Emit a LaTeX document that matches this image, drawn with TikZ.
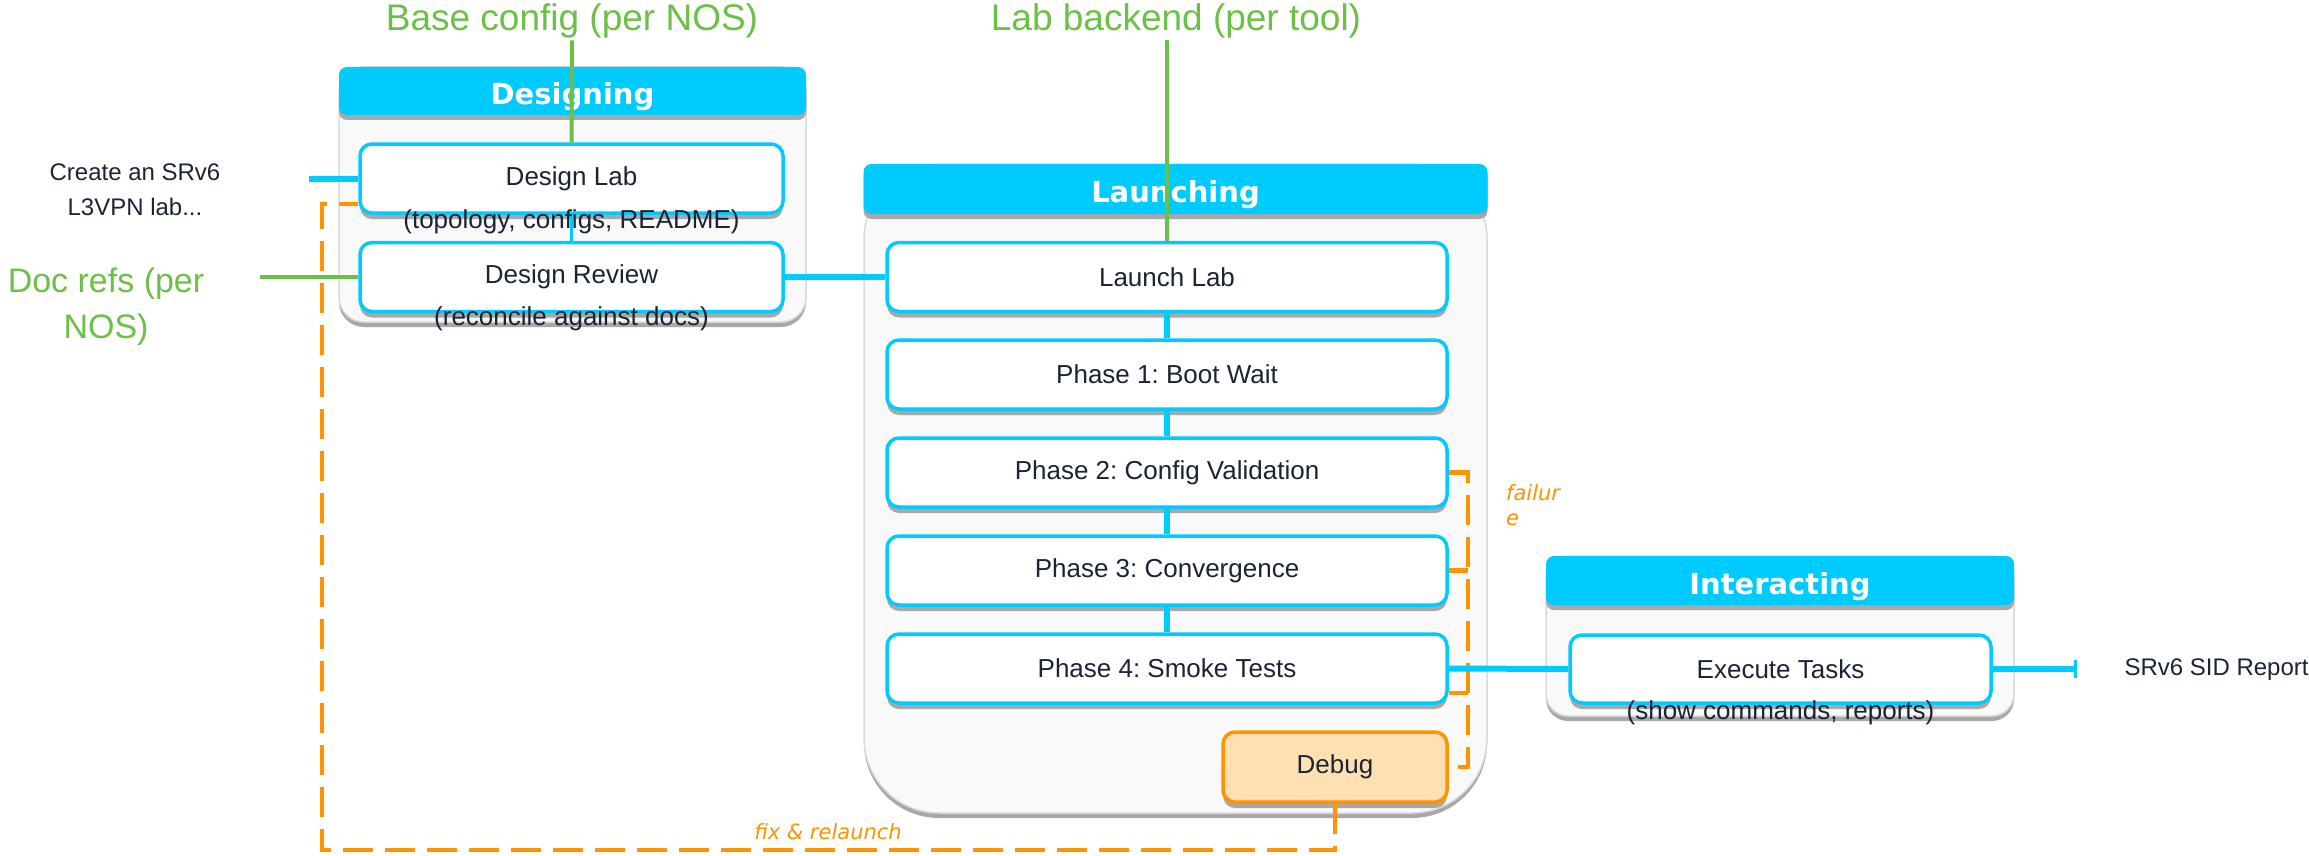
\documentclass[tikz,border=0pt]{standalone}
\usepackage{fontspec}
\setmainfont{Liberation Sans}
\newfontfamily\headfont{DejaVu Sans}
\usepackage{tikz}
\usetikzlibrary{arrows.meta,shadows}
\frenchspacing

\definecolor{phaseblue}{HTML}{00CBFF}
\definecolor{ink}{HTML}{1B2434}
\definecolor{refgreen}{HTML}{6CBF47}
\definecolor{failorange}{HTML}{FF9300}
\definecolor{debugfill}{HTML}{FFE0B3}
\definecolor{panelfill}{HTML}{F9F9F9}
\definecolor{panelline}{HTML}{DADADA}
\definecolor{shadegrey}{HTML}{A8A8A8}

\tikzset{
  greyshade/.style={drop shadow={shadow xshift=0pt, shadow yshift=-#1, fill=shadegrey, opacity=1}},
  panel/.style={fill=panelfill, draw=panelline, line width=1.5pt, greyshade=5pt},
  header/.style={fill=phaseblue, rounded corners=8pt, inner sep=0pt, text=white,
    text height=27pt, text depth=0pt,
    font=\headfont\bfseries\fontsize{29}{34}\selectfont, greyshade=5pt},
  task/.style={draw=phaseblue, fill=white, line width=3.5pt, rounded corners=12pt,
    inner sep=0pt, minimum height=69pt, text=ink, font=\fontsize{26}{31}\selectfont, greyshade=6pt},
  debugbox/.style={task, draw=failorange, fill=debugfill},
  sub/.style={text=ink, font=\fontsize{26}{31}\selectfont, inner sep=0pt},
  plain/.style={text=ink, font=\fontsize{24}{35}\selectfont, align=center},
  reflabel/.style={text=refgreen, font=\fontsize{37}{47}\selectfont, align=center, inner sep=2pt},
  note/.style={text=failorange, font=\headfont\itshape\fontsize{21}{25}\selectfont, inner sep=0pt},
  flow/.style={draw=phaseblue, line width=6pt},
  feed/.style={draw=refgreen, line width=4pt},
  fail/.style={draw=failorange, line width=4.5pt, dash pattern=on 30pt off 12pt},
}

\begin{document}
\begin{tikzpicture}[x=1pt,y=-1pt]
  \useasboundingbox (0,0) rectangle (2309,856);

  % containers
  \path[panel, rounded corners=25pt] (339,67) rectangle (806,322);
  \path[panel, rounded corners=75pt] (864,164) rectangle (1487,813);
  \path[panel, rounded corners=22pt] (1546,556) rectangle (2014,716);
  \node[header, minimum width=467pt, minimum height=48pt] (designhead) at (572.5,91) {Designing};
  \node[header, minimum width=624pt, minimum height=50pt] (launchhead) at (1175.5,189) {Launching};
  \node[header, minimum width=468pt, minimum height=49pt] (interhead) at (1780,580.5) {Interacting};

  % boxes
  \node[task, minimum width=423pt] (designlab) at (571.5,178.5) {Design Lab};
  \node[task, minimum width=423pt] (designreview) at (571.5,277) {Design Review};
  \node[task, minimum width=560pt] (launchlab) at (1167,277) {Launch Lab};
  \node[task, minimum width=560pt] (phase1) at (1167,374.5) {Phase 1: Boot Wait};
  \node[task, minimum width=560pt] (phase2) at (1167,472.5) {Phase 2: Config Validation};
  \node[task, minimum width=560pt] (phase3) at (1167,570.5) {Phase 3: Convergence};
  \node[task, minimum width=560pt] (phase4) at (1167,668.5) {Phase 4: Smoke Tests};
  \node[debugbox, minimum width=224pt, minimum height=70pt] (debug) at (1335,767) {Debug};
  \node[task, minimum width=421pt, minimum height=68pt] (execute) at (1780.5,669) {Execute Tasks};

  % outside labels
  \node[plain] (ask) at (135,190) {Create an SRv6\\L3VPN lab...};
  \node[plain, anchor=west] (report) at (2121,670) {SRv6 SID Report};
  \node[reflabel] (basecfg) at (572,21) {Base config (per NOS)};
  \node[reflabel] (backend) at (1176,21) {Lab backend (per tool)};
  \node[reflabel, font=\fontsize{34}{46}\selectfont] (docrefs) at (106,307) {Doc refs (per\\NOS)};
  \coordinate (askend) at (309,178.5);
  \coordinate (docend) at (260,277);
  \coordinate (reportend) at (2077,669);
  \coordinate (failx) at (1468,472.5);
  \coordinate (fixcorner) at (322,850);

  % failure loop
  \draw[fail] (phase2.east) -- (failx) |- (debug.east);
  \draw[fail] (phase3.east) -- (phase3.east -| failx);
  \draw[fail] ([yshift=-24.5pt]phase4.east) -- ([yshift=-24.5pt]phase4.east -| failx);
  \draw[fail] (debug.south) |- (fixcorner) |- ([yshift=-25.5pt]designlab.west);
  \node[note, align=left, anchor=west] (faillabel) at (1506,505) {failur\\e};
  \node[note] (fixlabel) at (828,832) {fix \& relaunch};

  % flow
  \draw[flow] (askend) -- (designlab.west);
  \draw[flow, line width=3pt] (designlab.south) -- (designreview.north);
  \draw[flow] (designreview.east) -- (launchlab.west);
  \draw[flow] (launchlab.south) -- (phase1.north);
  \draw[flow] (phase1.south) -- (phase2.north);
  \draw[flow] (phase2.south) -- (phase3.north);
  \draw[flow] (phase3.south) -- (phase4.north);
  \draw[flow] (phase4.east) -- (execute.west);
  \draw[flow, -{Bar[width=18pt,line width=3pt]}] (execute.east) -- (reportend);

  % references
  \draw[feed] (basecfg.south) -- (designlab.north);
  \draw[feed] (launchlab.north) -- (launchlab.north |- backend.south);
  \draw[feed] (docend) -- (designreview.west);

  % sub texts
  \node[sub] (labsub) at (571.5,222) {(topology, configs, README)};
  \node[sub] (reviewsub) at (571.5,319) {(reconcile against docs)};
  \node[sub] (executesub) at (1780.5,713) {(show commands, reports)};
\end{tikzpicture}
\end{document}
